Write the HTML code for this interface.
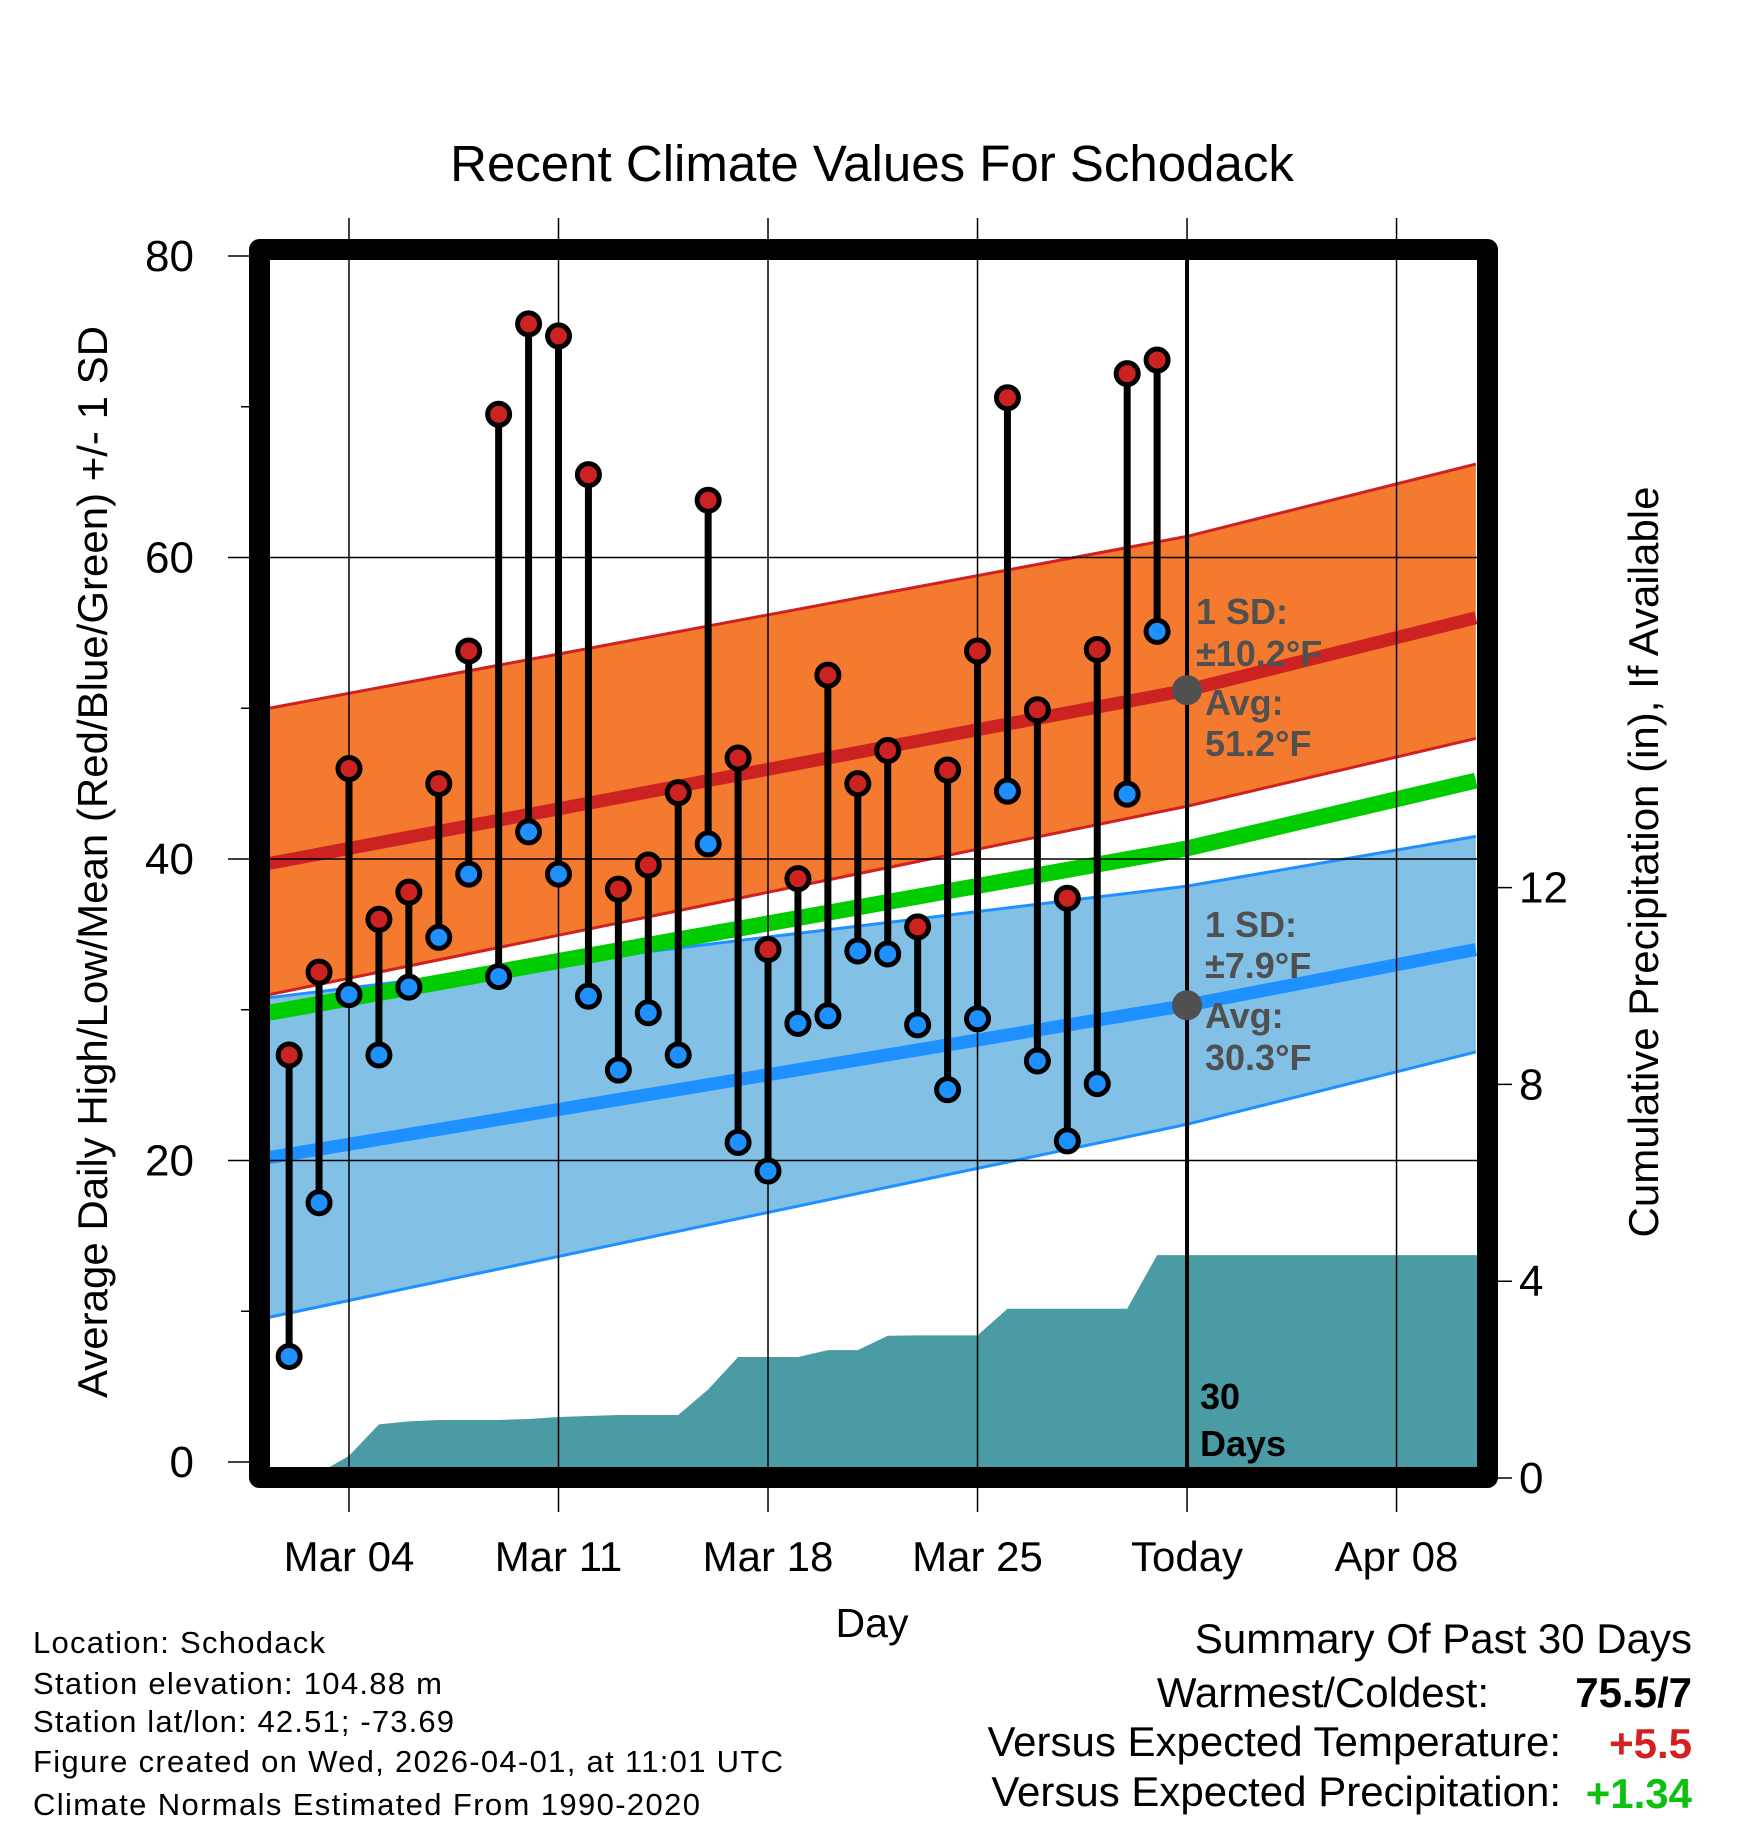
<!DOCTYPE html>
<html><head><meta charset="utf-8"><style>
html,body{margin:0;padding:0;background:#fff}
svg{display:block;font-family:"Liberation Sans",Arial,sans-serif}
</style></head><body>
<svg id="chart" width="1748" height="1828" viewBox="0 0 1748 1828" xmlns="http://www.w3.org/2000/svg">
<text x="872" y="181" font-size="51" text-anchor="middle">Recent Climate Values For Schodack</text>
<g id="bands"></g><g id="grid"></g><g id="marks"></g>
<rect x="259.5" y="249.5" width="1228" height="1228" fill="none" stroke="#000" stroke-width="21" stroke-linejoin="round"/>
<g id="axes"></g>
<text transform="translate(107,862) rotate(-90)" font-size="42" text-anchor="middle">Average Daily High/Low/Mean (Red/Blue/Green) +/- 1 SD</text>
<text transform="translate(1658,862) rotate(-90)" font-size="42" text-anchor="middle">Cumulative Precipitation (in), If Available</text>
<text x="872" y="1637" font-size="41" text-anchor="middle">Day</text>
<g font-size="31">
<text x="33" y="1653" textLength="292">Location: Schodack</text>
<text x="33" y="1694" textLength="409">Station elevation: 104.88 m</text>
<text x="33" y="1732" textLength="421">Station lat/lon: 42.51; -73.69</text>
<text x="33" y="1772" textLength="750">Figure created on Wed, 2026-04-01, at 11:01 UTC</text>
<text x="33" y="1815" textLength="667">Climate Normals Estimated From 1990-2020</text>
</g>
<g font-size="42" text-anchor="end">
<text x="1692" y="1653">Summary Of Past 30 Days</text>
<text x="1489" y="1707">Warmest/Coldest:</text>
<text x="1692" y="1707" font-weight="bold">75.5/7</text>
<text x="1561" y="1756">Versus Expected Temperature:</text>
<text x="1692" y="1758" font-weight="bold" fill="#d42020">+5.5</text>
<text x="1561" y="1806">Versus Expected Precipitation:</text>
<text x="1692" y="1808" font-weight="bold" fill="#10c010">+1.34</text>
</g>
</svg>
<script>
const days=[1,2,3,4,5,6,7,8,9,10,11,12,13,14,15,16,17,18,19,20,21,22,23,24,25,26,27,28,29,30];
const highs=[27,32.5,46,36,37.8,45,53.8,69.5,75.5,74.7,65.5,38,39.6,44.4,63.8,46.7,34,38.7,52.2,45,47.2,35.5,45.9,53.8,70.6,49.9,37.4,53.9,72.2,73.1];
const lows=[7,17.2,31,27,31.5,34.8,39,32.2,41.8,39,30.9,26,29.8,27,41,21.2,19.3,29.1,29.6,33.9,33.7,29,24.7,29.4,44.5,26.6,21.3,25.1,44.3,55.1];
const precip=[0,0.1,0.45,1.09,1.15,1.18,1.18,1.18,1.2,1.24,1.26,1.28,1.28,1.28,1.8,2.46,2.46,2.46,2.6,2.6,2.89,2.9,2.9,2.9,3.44,3.44,3.44,3.44,3.44,4.53];
const normDays=[0.33,31,40.65];
const hiMean=[39.7,51.2,56];
const hiUpper=[50,61.4,66.2];
const hiLower=[31,43.5,48];
const loMean=[20.2,30.3,34];
const loUpper=[30.8,38.2,41.5];
const loLower=[9.6,22.4,27.2];
const avgMean=[29.8,40.7,45.2];
const xTicks=[3,10,17,24,31,38];
const xTickLabels=["Mar 04","Mar 11","Mar 18","Mar 25","Today","Apr 08"];
const yTicks=[0,20,40,60,80];
const yMinor=[10,30,50,70];
const pTicks=[0,4,8,12];
const todayDay=31;

const NS="http://www.w3.org/2000/svg";
const X=d=>259.2+d*29.93;
const Y=t=>1462-t*15.075;
const P=p=>1478-p*49.2;
function mk(parent,tag,attrs){const e=document.createElementNS(NS,tag);for(const k in attrs)e.setAttribute(k,attrs[k]);parent.appendChild(e);return e;}
const bands=document.getElementById('bands'),grid=document.getElementById('grid'),marks=document.getElementById('marks'),axes=document.getElementById('axes');
function pts(arr){return normDays.map((d,i)=>X(d)+','+Y(arr[i]));}
function band(up,lo,fill,edge,name){
  const p=mk(bands,'polygon',{points:pts(up).concat(pts(lo).reverse()).join(' '),fill:fill});
  
  
  const a=mk(bands,'polyline',{points:pts(up).join(' '),fill:'none',stroke:edge,'stroke-width':3});
  
  
  const b=mk(bands,'polyline',{points:pts(lo).join(' '),fill:'none',stroke:edge,'stroke-width':3});
  
  
}
band(hiUpper,hiLower,'#f47a30','#d02020','high-sd-band');
band(loUpper,loLower,'#82c0e6','#1e90ff','low-sd-band');
function line(arr,col,w,name){
  const l=mk(bands,'polyline',{points:pts(arr).join(' '),fill:'none',stroke:col,'stroke-width':w});
  
  
}
line(avgMean,'#00cc00',16,'mean-normal-line');
line(hiMean,'#cc2222',13,'high-normal-line');
line(loMean,'#1e90ff',13,'low-normal-line');
let pp=[(X(days[0])+14)+','+P(0)];
days.forEach((d,i)=>pp.push(X(d)+','+P(precip[i])));
pp.push('1478,'+P(precip[precip.length-1]));pp.push('1478,'+P(0));
const area=mk(bands,'polygon',{points:pp.join(' '),fill:'#4a9ba3'});


xTicks.forEach((d,i)=>{
  const g=mk(grid,'line',{x1:X(d),x2:X(d),y1:218,y2:1512,stroke:'#000','stroke-width':1.5});
  
  
  const t=mk(axes,'text',{x:X(d),y:1571,'font-size':42,'text-anchor':'middle'});
  t.textContent=xTickLabels[i];
  
  
});
yTicks.forEach(v=>{
  const g=mk(grid,'line',{x1:228,x2:(v===0||v===80)?270:1478,y1:Y(v),y2:Y(v),stroke:'#000','stroke-width':1.5});
  
  
  const t=mk(axes,'text',{x:194,y:Y(v)+15,'font-size':44,'text-anchor':'end'});
  t.textContent=v;
  
  
});
yMinor.forEach(v=>{
  const g=mk(grid,'line',{x1:241,x2:252,y1:Y(v),y2:Y(v),stroke:'#000','stroke-width':1.5});
  
  
});
pTicks.forEach(v=>{
  const g=mk(axes,'line',{x1:1490,x2:1512,y1:P(v),y2:P(v),stroke:'#000','stroke-width':1.5});
  
  
  const t=mk(axes,'text',{x:1519,y:P(v)+15,'font-size':44});
  t.textContent=v;
  
  
});
const tl=mk(marks,'line',{x1:X(todayDay),x2:X(todayDay),y1:260,y2:1467,stroke:'#000','stroke-width':4});


days.forEach((d,i)=>{
  const s=mk(marks,'line',{x1:X(d),x2:X(d),y1:Y(highs[i]),y2:Y(lows[i]),stroke:'#000','stroke-width':7});
  
  
});
days.forEach((d,i)=>{
  const h=mk(marks,'circle',{cx:X(d),cy:Y(highs[i]),r:11,fill:'#cc2222',stroke:'#000','stroke-width':5});
  
  
  const l=mk(marks,'circle',{cx:X(d),cy:Y(lows[i]),r:11,fill:'#1e90ff',stroke:'#000','stroke-width':5});
  
  
});
[hiMean[1],loMean[1]].forEach(v=>{
  const c=mk(marks,'circle',{cx:X(todayDay),cy:Y(v),r:15,fill:'#505050'});
  
  
});
function ann(x,y,txt,col,name){
  const t=mk(marks,'text',{x:x,y:y,'font-size':36,'font-weight':'bold',fill:col});
  t.textContent=txt;
  
  
}
ann(1196,624,'1 SD:','#505050','high-sd-label');
ann(1196,666,'±10.2°F','#505050','high-sd-value');
ann(1205,715,'Avg:','#505050','high-avg-label');
ann(1205,756,'51.2°F','#505050','high-avg-value');
ann(1205,937,'1 SD:','#505050','low-sd-label');
ann(1205,978,'±7.9°F','#505050','low-sd-value');
ann(1205,1028,'Avg:','#505050','low-avg-label');
ann(1205,1070,'30.3°F','#505050','low-avg-value');
ann(1200,1409,'30','#000','days-count');
ann(1200,1456,'Days','#000','days-label');
</script>
</body></html>
